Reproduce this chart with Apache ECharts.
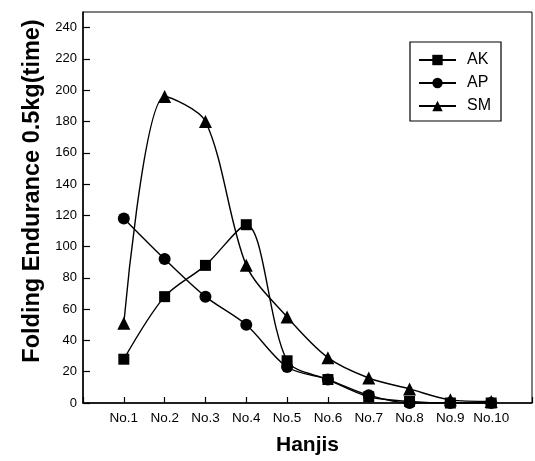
<!DOCTYPE html>
<html>
<head>
<meta charset="utf-8">
<script src="https://cdn.jsdelivr.net/npm/echarts@6/dist/echarts.min.js"></script>
<style>
  html, body { margin: 0; padding: 0; background: #fff; }
  #chart { width: 535px; height: 461px; }
</style>
</head>
<body>
<div id="chart"></div>
<script>
// Hanji samples along the x axis
const categories = ['No.1', 'No.2', 'No.3', 'No.4', 'No.5', 'No.6', 'No.7', 'No.8', 'No.9', 'No.10'];

// Folding endurance (0.5 kg load, times) per sample
const akValues = [28, 68, 88, 114, 27, 15, 4, 1, 0, 0];
const apValues = [118, 92, 68, 50, 23, 15, 5, 0, 0, 0];
const smValues = [51, 196, 180, 88, 55, 29, 16, 9, 2, 1];

const yTicks = [0, 20, 40, 60, 80, 100, 120, 140, 160, 180, 200, 220, 240];

const font = '"Liberation Sans", Arial, Helvetica, sans-serif';

// pair each value with its sample position (1..10)
const toPoints = vals => vals.map((v, i) => [i + 1, v]);

function makeSeries(name, vals, symbol, size) {
  return {
    name: name,
    type: 'line',
    data: toPoints(vals),
    smooth: 0.3,
    smoothConstraint: false,
    symbol: symbol,
    symbolSize: size,
    itemStyle: { color: '#000' },
    lineStyle: { color: '#000', width: 1.4 },
    emphasis: { disabled: true },
    animation: false
  };
}

const chart = echarts.init(document.getElementById('chart'), null, { renderer: 'canvas' });

chart.setOption({
  backgroundColor: '#fff',
  animation: false,
  grid: {
    left: 83, top: 12, right: 2, bottom: 52,
    show: true, borderColor: '#000', borderWidth: 1, backgroundColor: 'transparent'
  },
  legend: {
    orient: 'vertical',
    left: 410, top: 42,
    padding: [10, 10, 7, 8],
    itemWidth: 37, itemHeight: 13, itemGap: 7,
    borderColor: '#000', borderWidth: 1.2,
    textStyle: { fontFamily: font, fontSize: 16, color: '#000', padding: [0, 0, 0, 6] },
    data: ['AK', 'AP', 'SM']
  },
  xAxis: {
    type: 'value',
    min: 0, max: 11, interval: 1,
    name: 'Hanjis',
    nameLocation: 'middle',
    nameGap: 32,
    nameTextStyle: { fontFamily: font, fontSize: 21, fontWeight: 'bold', color: '#000' },
    axisLine: { show: true, lineStyle: { color: '#000', width: 1.5 } },
    axisTick: { show: true, inside: true, length: 6, lineStyle: { color: '#000', width: 1.2 } },
    axisLabel: {
      fontFamily: font, fontSize: 13.5, color: '#000', margin: 8,
      formatter: v => (v >= 1 && v <= categories.length) ? categories[v - 1] : ''
    },
    splitLine: { show: false }
  },
  yAxis: {
    type: 'value',
    min: 0, max: 250, interval: 20,
    axisLine: { show: true, lineStyle: { color: '#000', width: 1.5 } },
    axisTick: { show: true, inside: true, length: 7, lineStyle: { color: '#000', width: 1.2 } },
    axisLabel: {
      fontFamily: font, fontSize: 13, color: '#000', margin: 6,
      showMaxLabel: false,
      formatter: v => yTicks.indexOf(v) >= 0 ? String(v) : ''
    },
    splitLine: { show: false }
  },
  graphic: [{
    type: 'text',
    x: 33, y: 191,
    rotation: Math.PI / 2,
    style: {
      text: 'Folding Endurance 0.5kg(time)',
      font: 'bold 23.5px ' + font,
      fill: '#000',
      align: 'center',
      verticalAlign: 'middle'
    }
  }],
  series: [
    makeSeries('AK', akValues, 'rect', 11),
    makeSeries('AP', apValues, 'circle', 12),
    makeSeries('SM', smValues, 'triangle', 13)
  ]
});
</script>
</body>
</html>
